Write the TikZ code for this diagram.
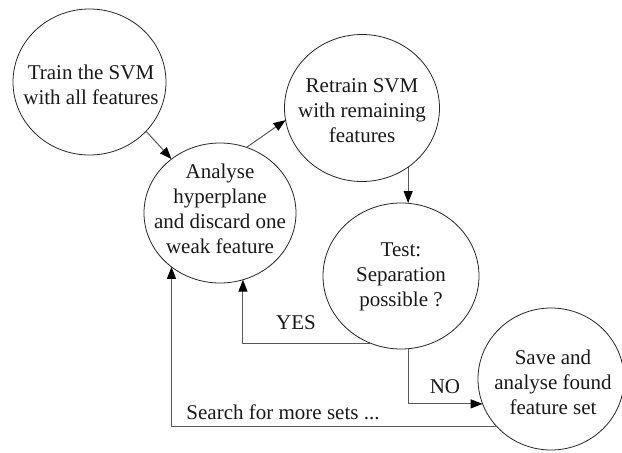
\documentclass[tikz,border=0pt]{standalone}
\usepackage{fontspec}
\setmainfont{Liberation Serif}
\usetikzlibrary{shapes.geometric,arrows.meta}
\begin{document}
\begin{tikzpicture}[x=1pt,y=-1pt,
  txt/.style={font=\fontsize{21}{25}\selectfont, text=black!90},
  stepnode/.style={ellipse, draw=black!85, line width=0.8pt, inner sep=0pt, outer sep=0pt},
  arr/.style={draw=black!65, line width=1pt, -{Triangle[length=12pt,width=9pt,color=black,fill=black]}},
  lbl/.style={txt, inner sep=0pt, align=center}]
\useasboundingbox (0,0) rectangle (622,453);
\node[stepnode, minimum width=153pt, minimum height=146pt] (c1) at (89.5,82) {};
\node[stepnode, minimum width=152pt, minimum height=140pt] (c2) at (220,213) {};
\node[stepnode, minimum width=155pt, minimum height=147pt] (c3) at (362,108) {};
\node[stepnode, minimum width=156pt, minimum height=146pt] (c4) at (401,276) {};
\node[stepnode, minimum width=146pt, minimum height=142pt] (c5) at (551,379) {};
\node[lbl] (t1) at (91,85) {Train the SVM\\with all features};
\node[lbl] (t2) at (220,209) {Analyse\\hyperplane\\and discard one\\weak feature};
\node[lbl] (t3) at (362,111) {Retrain SVM\\with remaining\\features};
\node[lbl] (t4) at (401,277) {Test:\\Separation\\possible ?};
\node[lbl] (t5) at (553,382) {Save and\\analyse found\\feature set};
\draw[arr] (c1.-41) -- (c2.132);
\draw[arr] (c2.68) -- (c3.189);
\draw[arr] (c3.-52) -- (c3.-52 |- c4.north);
\draw[arr] (c4.246) -| (c2.-71);
\draw[arr] (c4.-84) |- (c5.200);
\draw[arr] (c5.221) -| (c2.228);
\node[lbl] (yes) at (296,323) {YES};
\node[lbl] (no) at (445,387) {NO};
\node[lbl] (search) at (283,412) {Search for more sets ...};
\end{tikzpicture}
\end{document}
